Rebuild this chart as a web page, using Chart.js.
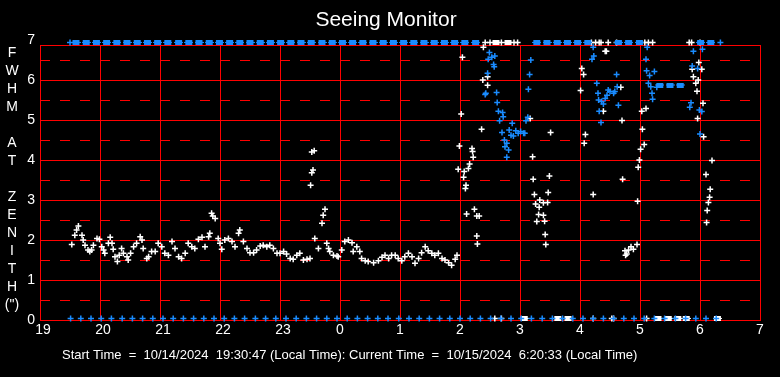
<!DOCTYPE html>
<html>
<head>
<meta charset="utf-8">
<title>Seeing Monitor</title>
<script src="https://cdn.jsdelivr.net/npm/chart.js@4.4.1/dist/chart.umd.min.js"></script>
<style>
  html, body { margin: 0; padding: 0; background: #000; }
  #wrap { width: 780px; height: 377px; }
</style>
</head>
<body>
<div id="wrap"><canvas id="seeingChart" width="780" height="377"></canvas></div>
<script>
// Label sumbu dan teks
const chartTitle = 'Seeing Monitor';
const footerText = 'Start Time  =  10/14/2024  19:30:47 (Local Time): Current Time  =  10/15/2024  6:20:33 (Local Time)';
const axisLetters = ['F', 'W', 'H', 'M', '', 'A', 'T', '', 'Z', 'E', 'N', 'I', 'T', 'H', '(")'];
const xTickLabels = ['19', '20', '21', '22', '23', '0', '1', '2', '3', '4', '5', '6', '7'];
const yTickLabels = ['0', '1', '2', '3', '4', '5', '6', '7'];

// Nilai FWHM untuk titik di luar skala (baris atas / bawah)
const topRowValue = 6.94;
const bottomRowValue = 0.04;
const bandValue = 5.875;

// Jam (19 = 19:00, 24 = 0:00, 30 = 6:00)
const lowWhite = [
  [19.53,1.89],[19.58,2.12],[19.61,2.25],[19.64,2.35],[19.70,2.12],[19.72,2.00],[19.75,1.87],[19.80,1.75],
  [19.83,1.71],[19.86,1.75],[19.89,1.87],[19.95,2.04],[19.99,2.02],[20.03,1.83],[20.06,1.75],[20.08,1.67],
  [20.14,1.92],[20.17,2.07],[20.20,1.92],[20.22,1.77],[20.25,1.58],[20.29,1.46],[20.32,1.62],[20.36,1.79],
  [20.39,1.67],[20.45,1.58],[20.47,1.50],[20.51,1.67],[20.56,1.83],[20.61,1.92],[20.67,2.08],[20.70,2.00],
  [20.72,1.79],[20.78,1.54],[20.81,1.58],[20.86,1.71],[20.92,1.71],[20.97,1.92],[21.03,1.83],[21.08,1.67],
  [21.14,1.62],[21.20,1.96],[21.25,1.79],[21.31,1.58],[21.36,1.54],[21.42,1.67],[21.47,1.92],[21.53,1.83],
  [21.58,1.79],[21.64,2.02],[21.70,2.07],[21.75,1.83],[21.81,2.08],[21.83,2.17],[21.86,2.67],[21.88,2.60],
  [21.92,2.54],[21.97,2.04],[22.00,1.92],[22.03,1.77],[22.08,2.00],[22.14,2.04],[22.20,1.96],[22.25,1.83],
  [22.31,2.17],[22.33,2.25],[22.39,1.96],[22.45,1.79],[22.50,1.68],[22.56,1.68],[22.61,1.75],[22.67,1.85],
  [22.72,1.87],[22.78,1.83],[22.83,1.87],[22.89,1.79],[22.95,1.67],[23.00,1.67],[23.06,1.71],[23.11,1.65],
  [23.17,1.54],[23.22,1.52],[23.28,1.62],[23.33,1.67],[23.39,1.50],[23.45,1.52],[23.50,1.54],[23.58,2.04],
  [23.64,1.79],[23.70,2.42],[23.72,2.62],[23.75,2.77],[23.78,1.92],[23.81,1.79],[23.83,1.71],[23.89,1.62],
  [23.95,1.60],[23.97,1.58],[24.03,1.75],[24.08,1.96],[24.14,2.00],[24.20,1.93],[24.22,1.71],[24.28,1.83],
  [24.33,1.71],[24.36,1.54],[24.42,1.48],[24.47,1.46],[24.56,1.43],[24.64,1.48],[24.70,1.57],[24.75,1.62],
  [24.81,1.54],[24.86,1.62],[24.92,1.62],[24.97,1.54],[25.03,1.48],[25.08,1.58],[25.14,1.67],[25.20,1.58],
  [25.25,1.42],[25.31,1.54],[25.36,1.68],[25.42,1.83],[25.47,1.73],[25.53,1.67],[25.58,1.62],[25.64,1.67],
  [25.70,1.54],[25.75,1.50],[25.81,1.43],[25.86,1.37],[25.92,1.52],[25.95,1.62],
  [23.51,3.37],[23.53,3.68],[23.55,3.75],[23.53,4.20],[23.57,4.23]
];

const highWhite = [
  [25.99,4.35],[26.20,4.29],[26.22,4.07],[26.16,3.90],[26.14,3.79],[26.07,3.71],[25.97,3.77],[26.06,3.57],
  [26.10,3.37],[26.09,3.29],[26.24,2.77],[26.11,2.65],[26.28,2.60],[26.32,2.60],[26.28,2.10],[26.29,1.90],
  [26.02,5.15],[26.04,6.57],[26.39,6.82],[26.46,6.08],[26.38,6.00],[26.46,5.87],[26.36,4.77],[26.21,4.21],
  [27.17,5.04],[27.51,4.69],[27.21,4.08],[27.22,3.52],[27.49,3.60],[27.24,3.14],[27.47,3.19],[27.26,2.90],
  [27.32,2.82],[27.33,3.00],[27.39,2.93],[27.46,2.94],[27.31,2.64],[27.39,2.62],[27.28,2.46],[27.41,2.47],
  [27.42,2.14],[27.43,1.89],
  [28.03,6.29],[28.06,6.14],[28.01,5.74],[28.09,4.64],[28.07,4.42],[28.22,3.14],[28.42,6.72],[28.44,6.72],
  [28.68,5.82],[28.39,5.22],[28.70,4.99],[28.71,3.52],[29.03,5.22],[29.10,5.29],[29.04,4.77],[29.07,4.39],
  [29.01,4.27],[28.99,4.00],[28.97,3.82],[28.96,2.97],[28.95,1.89],[28.85,1.83],[28.89,1.77],[28.81,1.75],
  [28.75,1.73],[28.78,1.65],[28.76,1.62],
  [29.98,6.44],[29.87,6.27],[30.03,6.27],[29.89,6.08],[29.97,6.00],[29.93,5.92],[29.95,5.72],[30.05,5.42],
  [29.96,5.04],[30.06,4.58],[30.20,3.99],[30.10,3.64],[30.17,3.27],[30.16,3.07],[30.14,2.94],[30.12,2.74],
  [30.11,2.44]
];

const blueScatter = [
  [26.49,6.69],[26.58,6.60],[26.53,6.57],[26.47,6.52],[26.56,6.39],[26.57,6.33],[26.46,6.17],[26.43,5.67],
  [26.42,5.64],[26.61,5.69],[26.62,5.44],[26.64,5.22],[26.71,5.19],[26.72,5.08],[26.66,4.98],[26.87,4.92],
  [26.70,4.69],[26.82,4.75],[26.85,4.62],[26.89,4.60],[26.93,4.73],[26.97,4.67],[27.01,4.71],[27.06,4.67],
  [27.08,4.67],[26.74,4.50],[26.78,4.42],[26.75,4.33],[26.81,4.25],[26.78,4.07],[27.13,5.07],[27.10,4.98],
  [27.18,6.50],[27.16,6.14],[27.14,5.77],
  [28.22,6.82],[28.23,6.60],[28.20,6.52],[28.28,5.92],[28.30,5.67],[28.31,5.50],[28.32,5.22],[28.61,6.14],
  [28.47,5.75],[28.50,5.71],[28.56,5.67],[28.58,5.71],[28.62,5.83],[28.45,5.62],[28.42,5.54],[28.36,5.46],
  [28.39,5.40],[28.64,5.37],[28.35,4.94],
  [29.12,6.82],[29.10,6.52],[29.11,6.23],[29.24,6.21],[29.16,6.11],[29.14,5.92],[29.18,5.83],[29.28,5.82],
  [29.20,5.67],[29.21,5.52],
  [29.89,6.72],[30.04,6.77],[29.87,6.35],[29.96,6.29],[29.85,5.43],[29.83,5.32],[29.99,5.25],[30.03,5.21],
  [30.00,4.65]
];

// Blok padat (satu blok per siklus pengukuran)
const topBlueBlocks = [
  19.60,19.77,19.94,20.11,20.28,20.45,20.62,20.79,20.96,21.13,21.31,21.48,21.65,21.82,21.99,22.16,
  22.33,22.50,22.67,22.84,23.01,23.18,23.35,23.52,23.70,23.87,24.04,24.21,24.38,24.55,24.72,24.89,
  25.06,25.23,25.40,25.57,25.74,25.91,26.08,26.26,
  27.28,27.45,27.62,27.79,27.96,28.13,
  28.64,28.81,28.99,
  30.01,30.18
];
const topBlueSingles = [19.50, 30.34];
const bandBlueBlocks = [29.33, 29.50, 29.67];
const topWhiteBlocks = [26.60, 26.80];
const topWhiteSingles = [26.42,26.50,26.69,26.90,26.96,28.19,28.26,28.32,28.35,28.47,28.61,29.08,29.14,29.21,29.82,29.86,30.00];

const bottomBlue = [
  19.51,19.68,19.85,20.02,20.19,20.37,20.54,20.71,20.88,21.05,21.22,21.39,21.56,21.73,21.90,22.07,
  22.24,22.41,22.59,22.76,22.93,23.10,23.27,23.44,23.61,23.78,23.95,24.12,24.29,24.46,24.63,24.80,
  24.98,25.15,25.32,25.49,25.66,25.83,26.00,26.17,26.34,26.51,26.68,26.85,27.02,27.19,27.37,27.54,
  27.71,27.88,28.05,28.22,28.39,28.56,28.73,28.90,29.07,29.24,29.41,29.59,29.76,29.93,30.10,30.27
];
const bottomWhiteBlocks = [27.07, 27.63, 27.80, 29.30, 29.47, 29.63, 29.77, 30.29];
const bottomWhiteSingles = [26.58, 26.69, 28.22, 28.53, 28.56, 29.11];

const BLUE = '#1a8cff';
const WHITE = '#ffffff';

function pairs(list) {
  return list.map(p => ({ x: p[0], y: p[1] }));
}
function row(list, value) {
  return list.map(h => ({ x: h, y: value }));
}

// Sprite untuk blok padat (kumpulan tanda +)
function makeBlock(color) {
  const c = document.createElement('canvas');
  c.width = 9; c.height = 5;
  const g = c.getContext('2d');
  g.fillStyle = color;
  g.fillRect(1, 0, 7, 5);
  g.fillRect(0, 2, 9, 1);
  return c;
}

function crossSet(data, color) {
  return {
    data: data, pointStyle: 'cross', pointRadius: 3, borderWidth: 1.5,
    borderColor: color, backgroundColor: color, showLine: false
  };
}
function blockSet(data, color) {
  return {
    data: data, pointStyle: makeBlock(color), pointRadius: 4, borderWidth: 0,
    borderColor: color, backgroundColor: color, showLine: false
  };
}

// Grid merah dan bingkai
const redGrid = {
  id: 'redGrid',
  beforeDatasetsDraw(chart) {
    const { ctx, chartArea: a, scales: { x, y } } = chart;
    const frameTop = Math.round(y.getPixelForValue(6.875)) + 0.5;
    ctx.save();
    ctx.strokeStyle = '#ff0000';
    ctx.lineWidth = 1;
    for (let i = 0; i < yTickLabels.length - 1; i++) {
      const solid = Math.round(y.getPixelForValue(i)) + 0.5;
      const dash = Math.round(y.getPixelForValue(i + 0.5)) + 0.5;
      ctx.setLineDash([]);
      ctx.beginPath(); ctx.moveTo(a.left, solid); ctx.lineTo(a.right, solid); ctx.stroke();
      ctx.setLineDash([10, 10]);
      ctx.beginPath(); ctx.moveTo(a.left, dash); ctx.lineTo(a.right, dash); ctx.stroke();
    }
    ctx.setLineDash([]);
    ctx.beginPath(); ctx.moveTo(a.left, frameTop); ctx.lineTo(a.right + 1, frameTop); ctx.stroke();
    xTickLabels.forEach((lbl, i) => {
      const px = Math.round(x.getPixelForValue(19 + i)) + 0.5;
      ctx.beginPath(); ctx.moveTo(px, frameTop); ctx.lineTo(px, a.bottom + 1); ctx.stroke();
    });
    ctx.restore();
  },
  afterDraw(chart) {
    const { ctx, chartArea: a, scales: { x, y } } = chart;
    ctx.save();
    ctx.fillStyle = '#ffffff';
    ctx.font = '21px "Liberation Sans", Arial, sans-serif';
    ctx.textAlign = 'center';
    ctx.textBaseline = 'middle';
    ctx.fillText(chartTitle, 386, 20);

    ctx.font = '14px "Liberation Sans", Arial, sans-serif';
    axisLetters.forEach((ch, i) => {
      if (ch) ctx.fillText(ch, 12, 53 + i * 18);
    });

    ctx.textAlign = 'right';
    yTickLabels.forEach((lbl, i) => {
      ctx.fillText(lbl, 35, y.getPixelForValue(i));
    });

    ctx.textAlign = 'center';
    xTickLabels.forEach((lbl, i) => {
      const off = lbl.length > 1 ? 3 : 0;
      ctx.fillText(lbl, x.getPixelForValue(19 + i) + off, a.bottom + 10);
    });

    ctx.font = '13px "Liberation Sans", Arial, sans-serif';
    ctx.textAlign = 'left';
    ctx.fillText(footerText, 62, 355);
    ctx.restore();
  }
};

const ctx = document.getElementById('seeingChart').getContext('2d');
window.seeingChart = new Chart(ctx, {
  type: 'scatter',
  data: {
    datasets: [
      crossSet(row(bottomBlue, bottomRowValue), BLUE),
      crossSet(pairs(blueScatter), BLUE),
      crossSet(row(topBlueSingles, topRowValue), BLUE),
      blockSet(row(topBlueBlocks, topRowValue), BLUE),
      blockSet(row(bandBlueBlocks, bandValue), BLUE),
      crossSet(pairs(lowWhite), WHITE),
      crossSet(pairs(highWhite), WHITE),
      crossSet(row(topWhiteSingles, topRowValue), WHITE),
      blockSet(row(topWhiteBlocks, topRowValue), WHITE),
      crossSet(row(bottomWhiteSingles, bottomRowValue), WHITE),
      blockSet(row(bottomWhiteBlocks, bottomRowValue), WHITE)
    ]
  },
  options: {
    responsive: false,
    animation: false,
    layout: { padding: { left: 40, right: 20, top: 40, bottom: 57 } },
    scales: {
      x: { type: 'linear', min: 19, max: 31, display: false },
      y: { type: 'linear', min: 0, max: 7, display: false }
    },
    plugins: {
      legend: { display: false },
      title: { display: false },
      tooltip: { enabled: false }
    },
    elements: { point: { hoverRadius: 3 } },
    datasets: { scatter: { clip: false } }
  },
  plugins: [redGrid]
});
</script>
</body>
</html>
